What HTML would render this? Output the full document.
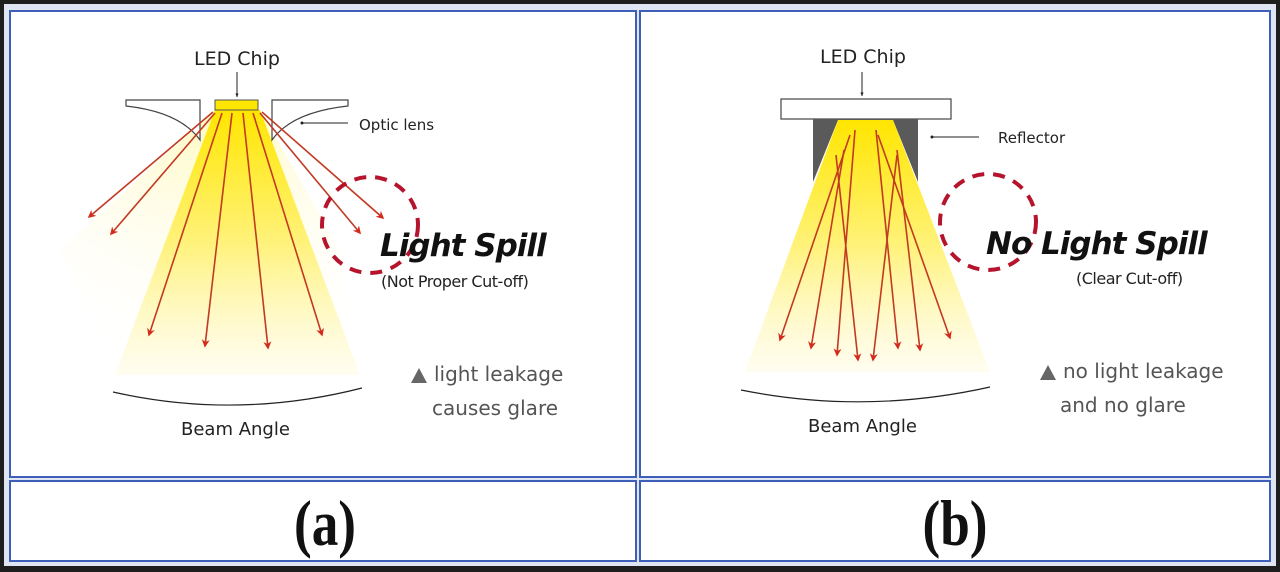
<!DOCTYPE html>
<html><head><meta charset="utf-8"><style>
html,body{margin:0;padding:0;background:#1a1a1a;}
svg{display:block}
text{font-family:"DejaVu Sans","Liberation Sans",sans-serif;}
</style></head><body>
<svg width="1280" height="572" viewBox="0 0 1280 572" xmlns="http://www.w3.org/2000/svg">
<defs>
<linearGradient id="beamL" x1="0" y1="0" x2="0" y2="1">
<stop offset="0" stop-color="#ffe600"/><stop offset="0.5" stop-color="#fff27a"/><stop offset="1" stop-color="#fffbe0" stop-opacity="0.5"/>
</linearGradient>
<radialGradient id="spill" cx="0.5" cy="0" r="1">
<stop offset="0" stop-color="#fff8b0"/><stop offset="1" stop-color="#ffffff" stop-opacity="0"/>
</radialGradient>
<marker id="ah" viewBox="0 0 10 10" refX="8" refY="5" markerWidth="5" markerHeight="5" orient="auto">
<path d="M0,0 L10,5 L0,10 L3,5 Z" fill="#d42a1c"/></marker>
<marker id="sm" viewBox="0 0 10 10" refX="9" refY="5" markerWidth="4" markerHeight="4" orient="auto">
<path d="M0,1 L10,5 L0,9 Z" fill="#222"/></marker>
</defs>
<rect x="0" y="0" width="1280" height="572" fill="#1e1e1e"/>
<rect x="4" y="4" width="1272" height="562" fill="#dfe5f2"/>
<g fill="#fff" stroke="#3d5fb8" stroke-width="2">
<rect x="10" y="11" width="626" height="466"/>
<rect x="640" y="11" width="630" height="466"/>
<rect x="10" y="481" width="626" height="80"/>
<rect x="640" y="481" width="630" height="80"/>
</g>
<!-- LEFT -->
<path d="M215,110 L60,250 L120,380 L360,380 L340,250 L260,110 Z" fill="url(#spill)" opacity="0.8"/>
<path d="M215,110 L260,110 L360,375 L115,375 Z" fill="url(#beamL)"/>
<path d="M126,100 L200,100 L200,140 Q180,112 126,106 Z" fill="#fff" stroke="#444" stroke-width="1.2"/>
<path d="M272,100 L348,100 L348,106 Q292,112 272,140 Z" fill="#fff" stroke="#444" stroke-width="1.2"/>
<rect x="215" y="100" width="43" height="10" fill="#ffe600" stroke="#555" stroke-width="1"/>
<line x1="237" y1="72" x2="237" y2="97" stroke="#222" stroke-width="1" marker-end="url(#sm)"/>
<text x="194" y="65" font-size="19" fill="#222">LED Chip</text>
<line x1="303" y1="123" x2="348" y2="123" stroke="#222" stroke-width="1"/>
<circle cx="302" cy="123" r="1.5" fill="#222"/>
<text x="359" y="130" font-size="15" fill="#222">Optic lens</text>
<g stroke="#c23a22" stroke-width="1.6" fill="none" marker-end="url(#ah)">
<line x1="213" y1="112" x2="89" y2="217"/>
<line x1="215" y1="113" x2="111" y2="234"/>
<line x1="222" y1="113" x2="149" y2="335"/>
<line x1="232" y1="113" x2="205" y2="346"/>
<line x1="243" y1="113" x2="268" y2="348"/>
<line x1="253" y1="113" x2="322" y2="335"/>
<line x1="260" y1="113" x2="360" y2="233"/>
<line x1="262" y1="112" x2="383" y2="218"/>
</g>
<circle cx="370" cy="225" r="48" fill="none" stroke="#b5142c" stroke-width="4" stroke-dasharray="12,9"/>
<text x="380" y="256" font-size="31" font-weight="bold" font-style="italic" fill="#111" letter-spacing="-1">Light Spill</text>
<text x="381" y="287" font-size="16" fill="#222" letter-spacing="-0.5">(Not Proper Cut-off)</text>
<path d="M113,392 Q237,420 362,388" fill="none" stroke="#222" stroke-width="1.2"/>
<text x="181" y="435" font-size="18" fill="#222">Beam Angle</text>
<path d="M411,383 L419,368 L427,383 Z" fill="#666"/>
<text x="434" y="381" font-size="20" fill="#555">light leakage</text>
<text x="432" y="415" font-size="20" fill="#555">causes glare</text>
<!-- RIGHT -->
<path d="M838,120 L893,120 L990,372 L745,372 Z" fill="url(#beamL)"/>
<rect x="781" y="99" width="170" height="20" fill="#fff" stroke="#444" stroke-width="1.2"/>
<path d="M813,119 L918,119 L918,182 L893,120 L838,120 L813,182 Z" fill="#5a5a5a"/>
<line x1="862" y1="72" x2="862" y2="96" stroke="#222" stroke-width="1" marker-end="url(#sm)"/>
<text x="820" y="63" font-size="19" fill="#222">LED Chip</text>
<line x1="979" y1="137" x2="932" y2="137" stroke="#222" stroke-width="1"/>
<circle cx="932" cy="137" r="1.5" fill="#222"/>
<text x="998" y="143" font-size="15" fill="#222">Reflector</text>
<g stroke="#c23a22" stroke-width="1.6" fill="none" marker-end="url(#ah)">
<line x1="850" y1="135" x2="780" y2="340"/>
<line x1="844" y1="150" x2="811" y2="348"/>
<line x1="855" y1="130" x2="837" y2="355"/>
<line x1="836" y1="155" x2="858" y2="360"/>
<line x1="897" y1="155" x2="873" y2="360"/>
<line x1="876" y1="130" x2="898" y2="348"/>
<line x1="897" y1="150" x2="920" y2="350"/>
<line x1="878" y1="135" x2="950" y2="338"/>
</g>
<circle cx="988" cy="222" r="48" fill="none" stroke="#b5142c" stroke-width="4" stroke-dasharray="12,9"/>
<text x="986" y="254" font-size="31" font-weight="bold" font-style="italic" fill="#111" letter-spacing="-1">No Light Spill</text>
<text x="1076" y="284" font-size="16" fill="#222" letter-spacing="-0.5">(Clear Cut-off)</text>
<path d="M741,390 Q865,415 990,387" fill="none" stroke="#222" stroke-width="1.2"/>
<text x="808" y="432" font-size="18" fill="#222">Beam Angle</text>
<path d="M1040,380 L1048,365 L1056,380 Z" fill="#666"/>
<text x="1063" y="378" font-size="20" fill="#555">no light leakage</text>
<text x="1060" y="412" font-size="20" fill="#555">and no glare</text>
<g transform="translate(325,545) scale(0.95,1.15)">
<text x="0" y="0" font-size="56" font-weight="bold" fill="#111" text-anchor="middle" style="font-family:'Liberation Serif',serif">(a)</text>
</g>
<g transform="translate(955,545) scale(0.95,1.15)">
<text x="0" y="0" font-size="56" font-weight="bold" fill="#111" text-anchor="middle" style="font-family:'Liberation Serif',serif">(b)</text>
</g>
</svg>
</body></html>
